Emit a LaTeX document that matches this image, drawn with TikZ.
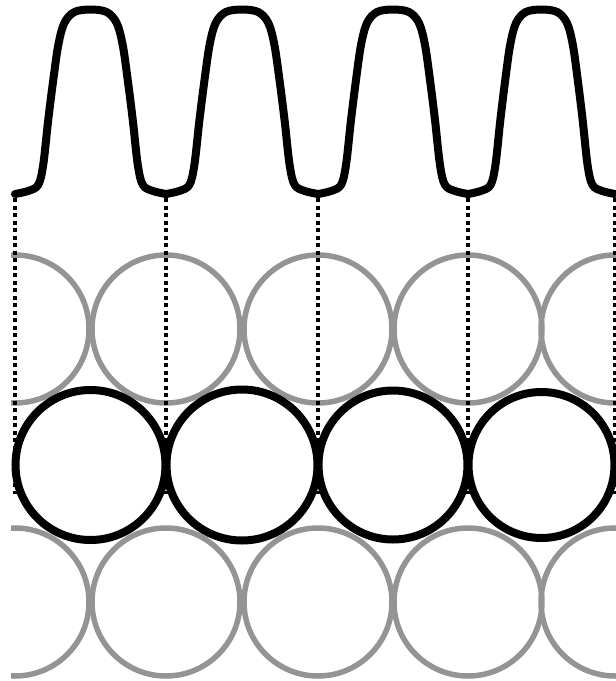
\documentclass[tikz,border=0pt]{standalone}
\begin{document}
\begin{tikzpicture}[x=1pt,y=-1pt,
  wave/.style={line width=8pt,line cap=round,line join=round},
  graycirc/.style={draw=black!42,line width=5.5pt},
  blackcirc/.style={draw=black,line width=8pt},
  guide/.style={line width=4.5pt,dash pattern=on 4pt off 3.5pt}]
\useasboundingbox (0,0) rectangle (616,681);
\begin{scope}
\clip (11,0) rectangle (616,681);
% gray circles, two rows
\foreach \x in {15,166,318,468,615}{
  \draw[graycirc] (\x,329) circle[radius=74];
  \draw[graycirc] (\x,602) circle[radius=74];
}
% dotted guides
\foreach \x in {15,166,318,468,615}{
  \coordinate (t\x) at (\x,198);
  \coordinate (b\x) at (\x,494);
  \draw[guide] (t\x) -- (b\x);
}
% black circles
\foreach \a/\b in {15/166,166/318,318/468,468/615}{
  \pgfmathsetmacro\cx{(\a+\b)/2}
  \pgfmathsetmacro\rr{(\b-\a)/2-0.5}
  \draw[blackcirc] (\cx,465) circle[radius=\rr];
}
% wave
\foreach \a/\b in {15/166,166/318,318/468,468/615}{
  \pgfmathsetmacro\s{(\b-\a)/150}
  \draw[wave] plot[smooth,tension=0.55] coordinates{
    (\a,194) ({\a+13*\s},191) ({\a+23*\s},185) ({\a+28*\s},165) ({\a+33*\s},120)
    ({\a+38*\s},80) ({\a+43*\s},45) ({\a+49*\s},23) ({\a+59*\s},12) ({\a+75*\s},9.5)
    ({\a+91*\s},12) ({\a+101*\s},23) ({\a+107*\s},45) ({\a+112*\s},80)
    ({\a+117*\s},120) ({\a+122*\s},165) ({\a+127*\s},185) ({\a+137*\s},191) (\b,194)};
}
\end{scope}
\end{tikzpicture}
\end{document}
